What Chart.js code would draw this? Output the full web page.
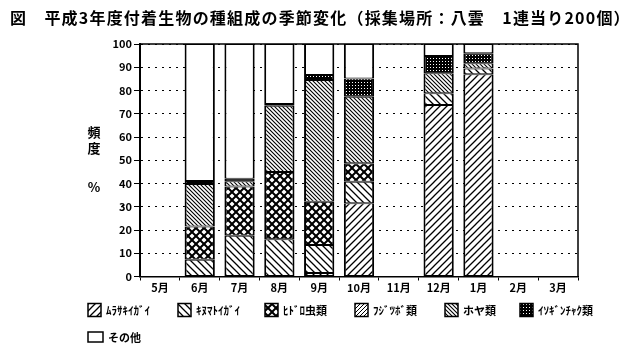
<!DOCTYPE html>
<html>
<head>
<meta charset="utf-8">
<script src="https://cdn.jsdelivr.net/npm/chart.js@4/dist/chart.umd.min.js"></script>
<style>
  body { margin: 0; background: #fff; }
  #wrap { width: 640px; height: 363px; position: relative; }
</style>
</head>
<body>
<div id="wrap"><canvas id="chart" width="640" height="363"></canvas></div>
<script>
// months (May..March)
const months = ['5月', '6月', '7月', '8月', '9月', '10月', '11月', '12月', '1月', '2月', '3月'];
const yTicks = [0, 10, 20, 30, 40, 50, 60, 70, 80, 90, 100];

// percentages (null = no sample)
const murasaki  = [null, null, null, null, 1.5, 31.5, null, 73.8, 87.0, null, null];
const kinumato  = [null, 7.2, 17.5, 16.0, 12.0, 9.3, null, 5.0, 2.5, null, null];
const hidoro    = [null, 14.3, 21.2, 29.0, 18.7, 7.9, null, null, null, null, null];
const fujitsubo = [null, null, null, null, null, null, null, null, null, null, null];
const hoya      = [null, 18.3, 2.3, 28.4, 52.3, 28.6, null, 8.6, 2.2, null, null];
const isogin    = [null, 1.3, 1.0, 0.8, 2.2, 7.9, null, 7.4, 4.3, null, null];
const sonota    = [null, 58.9, 58.0, 25.8, 13.3, 14.8, null, 5.2, 4.0, null, null];

const seriesNames = ['ﾑﾗｻｷｲｶﾞｲ', 'ｷﾇﾏﾄｲｶﾞｲ', 'ﾋﾄﾞﾛ虫類', 'ﾌｼﾞﾂﾎﾞ類', 'ホヤ類', 'ｲｿｷﾞﾝﾁｬｸ類', 'その他'];

const ctx = document.getElementById('chart').getContext('2d');

// hatch patterns
function makePattern(size, draw) {
  const c = document.createElement('canvas');
  c.width = size; c.height = size;
  const g = c.getContext('2d');
  g.fillStyle = '#fff';
  g.fillRect(0, 0, size, size);
  g.strokeStyle = '#000';
  g.fillStyle = '#000';
  draw(g, size);
  return ctx.createPattern(c, 'repeat');
}
function slash(g, s, w) {
  g.lineWidth = w;
  g.beginPath();
  g.moveTo(-1, s + 1); g.lineTo(s + 1, -1);
  g.moveTo(-1, 1); g.lineTo(1, -1);
  g.moveTo(s - 1, s + 1); g.lineTo(s + 1, s - 1);
  g.stroke();
}
function backslash(g, s, w) {
  g.lineWidth = w;
  g.beginPath();
  g.moveTo(-1, -1); g.lineTo(s + 1, s + 1);
  g.moveTo(s - 1, -1); g.lineTo(s + 1, 1);
  g.moveTo(-1, s - 1); g.lineTo(1, s + 1);
  g.stroke();
}
const patterns = [
  makePattern(7, (g, s) => slash(g, s, 1.3)),
  makePattern(7, (g, s) => backslash(g, s, 1.3)),
  makePattern(8, (g, s) => { slash(g, s, 2); backslash(g, s, 2); }),
  makePattern(4, (g, s) => slash(g, s, 1)),
  makePattern(4, (g, s) => backslash(g, s, 1.1)),
  makePattern(3, (g, s) => { g.fillRect(0, 0, s, s); g.fillStyle = '#fff'; g.fillRect(1, 1, 1, 1); }),
  '#ffffff'
];

const allData = [murasaki, kinumato, hidoro, fujitsubo, hoya, isogin, sonota];

const datasets = allData.map((d, i) => ({
  label: seriesNames[i],
  data: d,
  backgroundColor: patterns[i],
  borderColor: '#000',
  borderWidth: { left: 2, right: 2, top: 1, bottom: 1 },
  borderSkipped: false,
  barPercentage: 0.76,
  categoryPercentage: 1.0
}));

const jpFont = "'Noto Sans CJK JP', 'Noto Sans', sans-serif";

// title, y-axis caption, frame and legend
const extras = {
  id: 'extras',
  afterDraw(chart) {
    const c = chart.ctx;
    const a = chart.chartArea;
    c.save();
    c.strokeStyle = '#000';
    c.lineWidth = 1.5;
    c.beginPath();
    c.moveTo(a.left, a.top); c.lineTo(a.right, a.top); c.lineTo(a.right, a.bottom);
    c.stroke();

    c.fillStyle = '#000';
    c.textBaseline = 'middle';
    c.textAlign = 'left';
    c.font = 'bold 16px ' + jpFont;
    c.letterSpacing = '1.2px';
    c.fillText('図　平成3年度付着生物の種組成の季節変化（採集場所：八雲　1連当り200個）', 10, 18);
    c.letterSpacing = '0px';

    c.font = 'bold 13px ' + jpFont;
    c.textAlign = 'center';
    c.fillText('頻', 94, 132);
    c.fillText('度', 94, 148);
    c.fillText('%', 94, 187);

    const items = [
      [0, 88, 310], [1, 178, 310], [2, 265, 310], [3, 355, 310], [4, 445, 310], [5, 520, 310],
      [6, 88, 337]
    ];
    c.font = 'bold 11px ' + jpFont;
    c.textAlign = 'left';
    items.forEach(([i, x, y]) => {
      const w = i === 6 ? 15 : 13, h = i === 6 ? 10 : 13;
      c.fillStyle = patterns[i];
      c.fillRect(x, y - h / 2, w, h);
      c.lineWidth = 1.5;
      c.strokeStyle = '#000';
      c.strokeRect(x, y - h / 2, w, h);
      c.fillStyle = '#000';
      c.fillText(seriesNames[i], x + w + 5, y + 1);
    });
    c.restore();
  }
};

new Chart(ctx, {
  type: 'bar',
  data: { labels: months, datasets: datasets },
  plugins: [extras],
  options: {
    responsive: false,
    animation: false,
    layout: { padding: { top: 44, right: 62, bottom: 60, left: 0 } },
    plugins: {
      legend: { display: false },
      title: { display: false },
      tooltip: { enabled: false }
    },
    scales: {
      x: {
        stacked: true,
        grid: { offset: true, drawOnChartArea: false, drawTicks: true, tickLength: 4, color: '#000' },
        border: { display: true, color: '#000', width: 1.5 },
        ticks: { color: '#000', font: { family: jpFont, size: 11, weight: 'bold' }, padding: 1, maxRotation: 0 },
        afterFit(s) { s.height = 363 - 60 - 276.5; }
      },
      y: {
        stacked: true,
        min: 0,
        max: 100,
        afterBuildTicks(s) { s.ticks = yTicks.map(v => ({ value: v })); },
        grid: { color: '#000', lineWidth: 1, tickLength: 6, tickColor: '#000' },
        border: { display: true, color: '#000', width: 2, dash: [2, 5] },
        ticks: { color: '#000', font: { family: jpFont, size: 11, weight: 'bold' }, padding: 2 },
        afterFit(s) { s.width = 140; }
      }
    }
  }
});
</script>
</body>
</html>
